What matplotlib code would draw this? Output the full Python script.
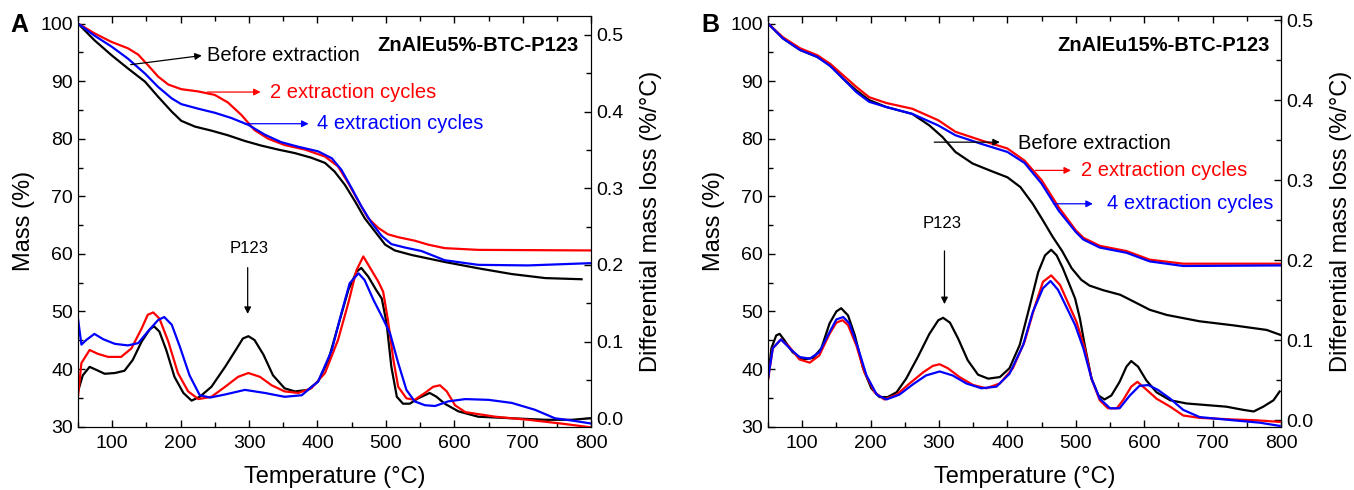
import matplotlib.pyplot as plt
from matplotlib.ticker import MultipleLocator

plt.rcParams['font.family'] = ['Liberation Sans', 'DejaVu Sans']

# ---- panel A : ZnAlEu5%-BTC-P123 ----
# mass curves (T in °C, mass in %)
a_black_T = [50, 74, 99, 123, 148, 167, 187, 201, 221, 245, 269, 294, 318, 343, 367, 391, 411, 425, 440, 455, 469, 484, 499, 513, 538, 586, 635, 684, 733, 786]
a_black_m = [100, 97.1, 94.5, 92.2, 89.9, 87.3, 84.7, 83.1, 82.1, 81.4, 80.6, 79.6, 78.8, 78.1, 77.5, 76.7, 75.8, 74.3, 72.0, 69.1, 66.2, 63.9, 61.6, 60.6, 59.8, 58.6, 57.5, 56.5, 55.8, 55.6]
a_red_T = [50, 74, 99, 123, 138, 152, 167, 182, 201, 226, 250, 269, 289, 308, 328, 352, 382, 411, 430, 445, 460, 474, 489, 503, 518, 542, 562, 586, 635, 801]
a_red_m = [100, 98.3, 96.8, 95.7, 94.6, 92.8, 90.8, 89.4, 88.6, 88.2, 87.6, 86.3, 84.1, 81.5, 80.0, 78.9, 78.1, 76.9, 75.2, 72.3, 69.1, 66.2, 64.5, 63.4, 62.9, 62.3, 61.6, 61.0, 60.7, 60.6]
a_blue_T = [50, 74, 99, 123, 148, 167, 187, 201, 226, 250, 274, 299, 323, 347, 372, 401, 421, 435, 450, 464, 479, 494, 508, 528, 552, 586, 635, 708, 801]
a_blue_m = [100, 97.9, 96.0, 93.9, 91.3, 89.0, 87.0, 86.0, 85.2, 84.5, 83.6, 82.4, 80.7, 79.4, 78.6, 77.8, 76.6, 74.6, 71.4, 68.3, 65.4, 63.1, 61.7, 61.1, 60.5, 58.9, 58.1, 58.0, 58.4]

# DTG curves (%/°C)
a_dtg_black_T = [50, 57, 67, 77, 89, 104, 118, 130, 143, 155, 161, 169, 179, 191, 204, 216, 228, 245, 265, 282, 291, 299, 308, 321, 335, 352, 367, 386, 401, 416, 430, 445, 457, 464, 474, 486, 494, 501, 508, 516, 525, 535, 547, 564, 574, 586, 606, 635, 684, 733, 772, 798]
a_dtg_black = [0.035, 0.056, 0.067, 0.063, 0.058, 0.059, 0.062, 0.076, 0.100, 0.116, 0.120, 0.113, 0.089, 0.054, 0.033, 0.023, 0.028, 0.041, 0.067, 0.091, 0.104, 0.107, 0.102, 0.083, 0.056, 0.039, 0.035, 0.037, 0.048, 0.076, 0.120, 0.167, 0.191, 0.196, 0.185, 0.167, 0.156, 0.124, 0.067, 0.028, 0.019, 0.019, 0.026, 0.033, 0.028, 0.019, 0.009, 0.002, 0.000, -0.002, -0.002, 0.000]
a_dtg_red_T = [50, 55, 67, 79, 94, 113, 128, 143, 152, 160, 169, 182, 196, 211, 226, 245, 265, 284, 299, 316, 333, 352, 372, 391, 411, 430, 445, 457, 467, 477, 489, 496, 503, 511, 518, 530, 542, 557, 569, 579, 589, 601, 616, 660, 708, 757, 801]
a_dtg_red = [0.028, 0.072, 0.089, 0.084, 0.080, 0.080, 0.091, 0.117, 0.135, 0.138, 0.130, 0.100, 0.059, 0.035, 0.025, 0.028, 0.041, 0.054, 0.059, 0.054, 0.043, 0.035, 0.033, 0.039, 0.059, 0.102, 0.150, 0.193, 0.211, 0.196, 0.178, 0.165, 0.128, 0.076, 0.041, 0.026, 0.024, 0.033, 0.041, 0.043, 0.035, 0.017, 0.008, 0.002, -0.002, -0.007, -0.012]
a_dtg_blue_T = [50, 55, 62, 74, 87, 104, 123, 138, 152, 167, 176, 187, 199, 213, 228, 243, 265, 294, 323, 352, 377, 401, 421, 435, 447, 460, 469, 482, 494, 506, 518, 530, 542, 557, 572, 591, 616, 650, 684, 718, 747, 772, 801]
a_dtg_blue = [0.130, 0.096, 0.102, 0.110, 0.103, 0.097, 0.095, 0.098, 0.113, 0.128, 0.132, 0.122, 0.093, 0.056, 0.030, 0.027, 0.031, 0.037, 0.033, 0.028, 0.030, 0.048, 0.089, 0.137, 0.176, 0.189, 0.180, 0.154, 0.133, 0.111, 0.072, 0.037, 0.022, 0.017, 0.016, 0.022, 0.025, 0.024, 0.020, 0.011, 0.000, -0.003, -0.007]

# ---- panel B : ZnAlEu15%-BTC-P123 ----
b_black_T = [50, 72, 97, 122, 141, 160, 179, 198, 223, 261, 286, 305, 324, 349, 374, 400, 419, 437, 452, 466, 480, 494, 508, 520, 540, 565, 585, 608, 633, 681, 730, 779, 800]
b_black_m = [100, 97.4, 95.4, 94.2, 92.8, 90.4, 88.4, 86.7, 85.5, 84.3, 82.3, 80.3, 77.7, 75.7, 74.5, 73.3, 71.6, 68.7, 65.8, 63.0, 60.5, 57.5, 55.5, 54.5, 53.7, 52.9, 51.7, 50.3, 49.4, 48.3, 47.6, 46.8, 45.9]
b_red_T = [50, 72, 97, 122, 141, 160, 179, 198, 223, 261, 299, 324, 362, 400, 425, 450, 475, 500, 511, 535, 574, 608, 657, 800]
b_red_m = [100, 97.6, 95.7, 94.5, 93.0, 91.0, 89.0, 87.2, 86.2, 85.2, 83.2, 81.2, 79.7, 78.3, 76.2, 72.8, 68.1, 64.1, 62.8, 61.4, 60.5, 59.0, 58.3, 58.3]
b_blue_T = [50, 72, 97, 122, 141, 160, 179, 198, 223, 261, 299, 324, 362, 400, 425, 450, 475, 500, 511, 535, 574, 608, 657, 800]
b_blue_m = [100, 97.4, 95.4, 94.2, 92.6, 90.4, 88.1, 86.4, 85.5, 84.3, 82.3, 80.6, 79.1, 77.7, 75.8, 72.2, 67.5, 63.8, 62.5, 61.1, 60.2, 58.7, 57.9, 58.0]

b_dtg_black_T = [50, 55, 62, 67, 74, 86, 101, 116, 128, 140, 150, 157, 167, 177, 189, 201, 213, 225, 238, 252, 269, 286, 299, 306, 316, 328, 342, 357, 372, 389, 403, 418, 433, 445, 455, 464, 472, 481, 491, 499, 506, 513, 523, 533, 542, 552, 564, 574, 581, 591, 603, 618, 638, 662, 691, 720, 745, 760, 774, 789, 798]
b_dtg_black = [0.052, 0.090, 0.106, 0.108, 0.100, 0.085, 0.076, 0.078, 0.090, 0.121, 0.136, 0.140, 0.131, 0.106, 0.065, 0.040, 0.029, 0.029, 0.035, 0.052, 0.079, 0.108, 0.125, 0.128, 0.122, 0.102, 0.075, 0.057, 0.052, 0.054, 0.065, 0.094, 0.144, 0.185, 0.206, 0.213, 0.206, 0.190, 0.169, 0.152, 0.127, 0.094, 0.052, 0.031, 0.026, 0.031, 0.048, 0.067, 0.074, 0.067, 0.050, 0.035, 0.025, 0.021, 0.019, 0.017, 0.013, 0.011, 0.017, 0.025, 0.036]
b_dtg_red_T = [50, 57, 69, 81, 96, 111, 125, 140, 150, 159, 167, 179, 191, 206, 220, 238, 257, 277, 291, 301, 313, 330, 350, 369, 389, 408, 425, 440, 452, 464, 477, 489, 501, 513, 523, 535, 547, 560, 569, 581, 590, 601, 618, 638, 657, 681, 730, 764, 798]
b_dtg_red = [0.050, 0.090, 0.101, 0.092, 0.076, 0.072, 0.081, 0.108, 0.122, 0.125, 0.119, 0.094, 0.060, 0.035, 0.026, 0.032, 0.046, 0.060, 0.068, 0.070, 0.065, 0.054, 0.044, 0.040, 0.046, 0.065, 0.098, 0.142, 0.173, 0.181, 0.169, 0.146, 0.123, 0.090, 0.052, 0.025, 0.015, 0.015, 0.025, 0.042, 0.048, 0.040, 0.027, 0.017, 0.006, 0.003, 0.001, 0.000, -0.002]
b_dtg_blue_T = [50, 57, 69, 84, 96, 111, 125, 140, 150, 160, 169, 181, 194, 209, 223, 242, 262, 281, 301, 320, 340, 362, 384, 403, 423, 437, 452, 463, 474, 486, 499, 511, 523, 535, 550, 564, 579, 593, 606, 620, 638, 657, 681, 730, 769, 798]
b_dtg_blue = [0.052, 0.090, 0.101, 0.088, 0.079, 0.077, 0.085, 0.110, 0.126, 0.129, 0.121, 0.092, 0.056, 0.032, 0.026, 0.032, 0.045, 0.056, 0.061, 0.056, 0.046, 0.040, 0.042, 0.058, 0.094, 0.135, 0.165, 0.174, 0.163, 0.142, 0.119, 0.090, 0.052, 0.027, 0.015, 0.015, 0.031, 0.043, 0.044, 0.038, 0.027, 0.013, 0.004, 0.000, -0.003, -0.007]

RED = '#ff0000'
BLUE = '#0000ff'
BLACK = '#000000'


def style_axes(ax, ax2, dtg_lim):
    ax.set_xlim(50, 800)
    ax.set_ylim(30, 101.3)
    ax2.set_ylim(*dtg_lim)
    ax.xaxis.set_minor_locator(MultipleLocator(50))
    ax.yaxis.set_major_locator(MultipleLocator(10))
    ax.yaxis.set_minor_locator(MultipleLocator(5))
    ax2.yaxis.set_major_locator(MultipleLocator(0.1))
    ax2.yaxis.set_minor_locator(MultipleLocator(0.05))
    ax2.yaxis.set_major_formatter(plt.FuncFormatter(lambda v, p: '%.1f' % v))
    ax.set_xticks([100, 200, 300, 400, 500, 600, 700, 800])
    ax.tick_params(axis='x', which='both', direction='in', top=True, labelsize=14, pad=6)
    ax.tick_params(axis='y', which='both', direction='in', right=False, labelsize=14)
    ax2.tick_params(axis='y', which='both', direction='in', labelsize=14)
    for a in (ax, ax2):
        a.tick_params(which='major', length=5, width=1)
        a.tick_params(which='minor', length=3.5, width=1)
    ax.set_xlabel('Temperature (°C)', fontsize=17, labelpad=10)
    ax.set_ylabel('Mass (%)', fontsize=17, labelpad=4)
    ax2.set_ylabel('Differential mass loss (%/°C)', fontsize=17, labelpad=12)


fig = plt.figure(figsize=(13.54, 4.9), dpi=100)
arr = dict(arrowstyle='-|>', lw=0.9, mutation_scale=10)

# panel A
axA = fig.add_axes([0.0576, 0.1292, 0.3790, 0.8381])
axA2 = axA.twinx()
axA.plot(a_black_T, a_black_m, color=BLACK, lw=1.6)
axA.plot(a_red_T, a_red_m, color=RED, lw=1.6)
axA.plot(a_blue_T, a_blue_m, color=BLUE, lw=1.6)
axA2.plot(a_dtg_black_T, a_dtg_black, color=BLACK, lw=1.6)
axA2.plot(a_dtg_red_T, a_dtg_red, color=RED, lw=1.6)
axA2.plot(a_dtg_blue_T, a_dtg_blue, color=BLUE, lw=1.6)
style_axes(axA, axA2, (-0.011, 0.5245))

axA.annotate('', xy=(235, 94.5), xytext=(123, 92.8), arrowprops=dict(arr, color=BLACK))
axA.text(238, 94.5, 'Before extraction', fontsize=14.5, va='center', color=BLACK)
axA.annotate('', xy=(321, 88.1), xytext=(235, 88.1), arrowprops=dict(arr, color=RED))
axA.text(330, 88.1, '2 extraction cycles', fontsize=14.5, va='center', color=RED)
axA.annotate('', xy=(391, 82.6), xytext=(289, 82.6), arrowprops=dict(arr, color=BLUE))
axA.text(400, 82.6, '4 extraction cycles', fontsize=14.5, va='center', color=BLUE)
axA.text(782, 96.2, 'ZnAlEu5%-BTC-P123', fontsize=14.5, fontweight='bold', ha='right', va='center')
axA.text(300, 60.9, 'P123', fontsize=12, ha='center', va='center')
axA.annotate('', xy=(298, 49.1), xytext=(298, 58.1), arrowprops=dict(arr, color=BLACK))
fig.text(0.008, 0.935, 'A', fontsize=18, fontweight='bold')

# panel B
axB = fig.add_axes([0.5672, 0.1292, 0.3789, 0.8381])
axB2 = axB.twinx()
axB.plot(b_black_T, b_black_m, color=BLACK, lw=1.6)
axB.plot(b_red_T, b_red_m, color=RED, lw=1.6)
axB.plot(b_blue_T, b_blue_m, color=BLUE, lw=1.6)
axB2.plot(b_dtg_black_T, b_dtg_black, color=BLACK, lw=1.6)
axB2.plot(b_dtg_red_T, b_dtg_red, color=RED, lw=1.6)
axB2.plot(b_dtg_blue_T, b_dtg_blue, color=BLUE, lw=1.6)
style_axes(axB, axB2, (-0.008, 0.505))

axB.annotate('', xy=(393, 79.4), xytext=(289, 79.4), arrowprops=dict(arr, color=BLACK))
axB.text(415, 79.2, 'Before extraction', fontsize=14.5, va='center', color=BLACK)
axB.annotate('', xy=(497, 74.5), xytext=(437, 74.5), arrowprops=dict(arr, color=RED))
axB.text(507, 74.5, '2 extraction cycles', fontsize=14.5, va='center', color=RED)
axB.annotate('', xy=(529, 68.7), xytext=(463, 68.7), arrowprops=dict(arr, color=BLUE))
axB.text(545, 68.7, '4 extraction cycles', fontsize=14.5, va='center', color=BLUE)
axB.text(784, 96.2, 'ZnAlEu15%-BTC-P123', fontsize=14.5, fontweight='bold', ha='right', va='center')
axB.text(305, 65.2, 'P123', fontsize=12, ha='center', va='center')
axB.annotate('', xy=(308, 50.8), xytext=(308, 61.0), arrowprops=dict(arr, color=BLACK))
fig.text(0.518, 0.935, 'B', fontsize=18, fontweight='bold')

fig.savefig('out.png', dpi=100)
